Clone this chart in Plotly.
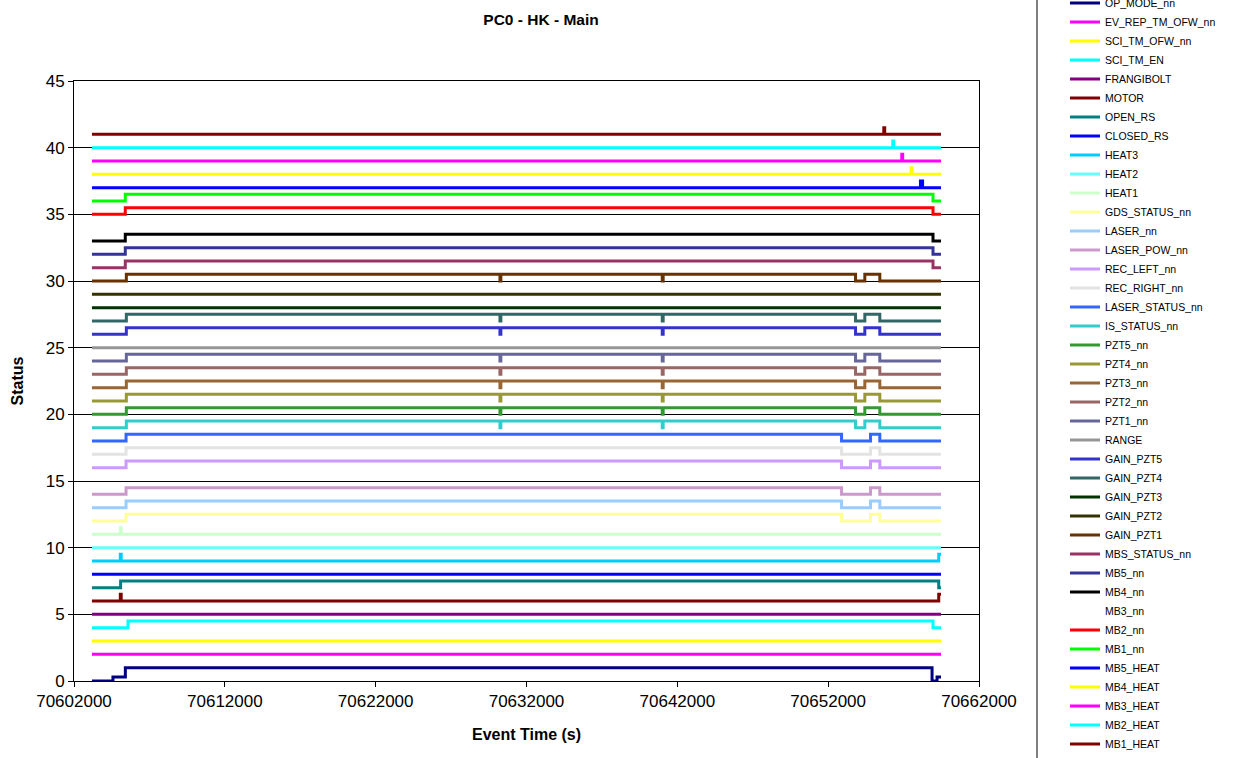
import plotly.graph_objects as go

# ---- data -------------------------------------------------------------
T0, TE = 70603190, 70659480
FLAT_T = [T0, TE]
MB_T = [T0, 70605400, 70658950, TE]
PZT_T = [T0, 70605470, 70630240, 70630300, 70641000, 70641060,
         70653815, 70654430, 70655424, TE]
LASER_T = [T0, 70605450, 70652887, 70654808, 70655424, TE]
SPIKE_END_T = [T0, 70605070, 70605130, 70659330, TE]

names = ["OP_MODE_nn", "EV_REP_TM_OFW_nn", "SCI_TM_OFW_nn", "SCI_TM_EN",
         "FRANGIBOLT", "MOTOR", "OPEN_RS", "CLOSED_RS", "HEAT3", "HEAT2",
         "HEAT1", "GDS_STATUS_nn", "LASER_nn", "LASER_POW_nn", "REC_LEFT_nn",
         "REC_RIGHT_nn", "LASER_STATUS_nn", "IS_STATUS_nn", "PZT5_nn",
         "PZT4_nn", "PZT3_nn", "PZT2_nn", "PZT1_nn", "RANGE", "GAIN_PZT5",
         "GAIN_PZT4", "GAIN_PZT3", "GAIN_PZT2", "GAIN_PZT1", "MBS_STATUS_nn",
         "MB5_nn", "MB4_nn", "MB3_nn", "MB2_nn", "MB1_nn", "MB5_HEAT",
         "MB4_HEAT", "MB3_HEAT", "MB2_HEAT", "MB1_HEAT"]

times = [
    [T0, 70604583, 70605404, 70658888, 70659219, TE],   # OP_MODE_nn
    FLAT_T,                                             # EV_REP_TM_OFW_nn
    FLAT_T,                                             # SCI_TM_OFW_nn
    [T0, 70605576, 70658950, TE],                       # SCI_TM_EN
    FLAT_T,                                             # FRANGIBOLT
    SPIKE_END_T,                                        # MOTOR
    [T0, 70605090, 70659330, TE],                       # OPEN_RS
    FLAT_T,                                             # CLOSED_RS
    SPIKE_END_T,                                        # HEAT3
    FLAT_T,                                             # HEAT2
    [T0, 70605070, 70605130, TE],                       # HEAT1
    LASER_T, LASER_T, LASER_T, LASER_T, LASER_T, LASER_T,
    PZT_T, PZT_T, PZT_T, PZT_T, PZT_T, PZT_T,           # IS_STATUS, PZT5..PZT1
    FLAT_T,                                             # RANGE
    PZT_T, PZT_T,                                       # GAIN_PZT5, GAIN_PZT4
    FLAT_T, FLAT_T,                                     # GAIN_PZT3, GAIN_PZT2
    PZT_T,                                              # GAIN_PZT1
    MB_T, MB_T, MB_T, MB_T, MB_T, MB_T,                 # MBS_STATUS, MB5..MB1
    [T0, 70658119, 70658260, TE],                       # MB5_HEAT
    [T0, 70657497, 70657560, TE],                       # MB4_HEAT
    [T0, 70656880, 70656940, TE],                       # MB3_HEAT
    [T0, 70656285, 70656345, TE],                       # MB2_HEAT
    [T0, 70655688, 70655748, TE],                       # MB1_HEAT
]

values = [
    [0, 0.3, 1, 0, 0.3, 0.3],
    [2, 2],
    [3, 3],
    [4, 4.5, 4, 4],
    [5, 5],
    [6, 6.5, 6, 6.5, 6.5],
    [7, 7.5, 7, 7],
    [8, 8],
    [9, 9.5, 9, 9.5, 9.5],
    [10, 10],
    [11, 11.5, 11, 11],
    [12, 12.5, 12, 12.5, 12, 12],
    [13, 13.5, 13, 13.5, 13, 13],
    [14, 14.5, 14, 14.5, 14, 14],
    [16, 16.5, 16, 16.5, 16, 16],
    [17, 17.5, 17, 17.5, 17, 17],
    [18, 18.5, 18, 18.5, 18, 18],
    [19, 19.5, 19, 19.5, 19, 19.5, 19, 19.5, 19, 19],
    [20, 20.5, 20, 20.5, 20, 20.5, 20, 20.5, 20, 20],
    [21, 21.5, 21, 21.5, 21, 21.5, 21, 21.5, 21, 21],
    [22, 22.5, 22, 22.5, 22, 22.5, 22, 22.5, 22, 22],
    [23, 23.5, 23, 23.5, 23, 23.5, 23, 23.5, 23, 23],
    [24, 24.5, 24, 24.5, 24, 24.5, 24, 24.5, 24, 24],
    [25, 25],
    [26, 26.5, 26, 26.5, 26, 26.5, 26, 26.5, 26, 26],
    [27, 27.5, 27, 27.5, 27, 27.5, 27, 27.5, 27, 27],
    [28, 28],
    [29, 29],
    [30, 30.5, 30, 30.5, 30, 30.5, 30, 30.5, 30, 30],
    [31, 31.5, 31, 31],
    [32, 32.5, 32, 32],
    [33, 33.5, 33, 33],
    [34, 34.5, 34, 34],
    [35, 35.5, 35, 35],
    [36, 36.5, 36, 36],
    [37, 37.5, 37, 37],
    [38, 38.5, 38, 38],
    [39, 39.5, 39, 39],
    [40, 40.5, 40, 40],
    [41, 41.5, 41, 41],
]

x_ticks = [70602000, 70612000, 70622000, 70632000, 70642000, 70652000, 70662000]
y_ticks = [0, 5, 10, 15, 20, 25, 30, 35, 40, 45]

# ---- styles -----------------------------------------------------------
colors = ["#000080", "#FF00FF", "#FFFF00", "#00FFFF", "#800080", "#800000",
          "#008080", "#0000FF", "#00CCFF", "#66FFFF", "#CCFFCC", "#FFFF99",
          "#99CCFF", "#CC99CC", "#CC99FF", "#E3E3E3", "#3366FF", "#33CCCC",
          "#339933", "#999933", "#996633", "#996666", "#666699", "#969696",
          "#3333CC", "#336666", "#003300", "#333300", "#663300", "#993366",
          "#333399", "#000000", "rgba(0,0,0,0)", "#FF0000", "#00FF00",
          "#0000FF", "#FFFF00", "#FF00FF", "#00FFFF", "#800000"]

FONT = "Liberation Sans, Arial, sans-serif"
W, H = 1249, 758
L, R, T, B = 74, 979, 81, 681

fig = go.Figure()
for n, t, v, c in zip(names, times, values, colors):
    fig.add_trace(go.Scatter(x=t, y=v, name=n, mode="lines",
                             line=dict(color=c, width=3, shape="hv")))

def px_to_paper_x(px):
    return (px - L) / (R - L)

def px_to_paper_y(py):
    return (B - py) / (B - T)

fig.update_layout(
    width=W, height=H,
    margin=dict(l=L, r=W - R, t=T, b=H - B, autoexpand=False),
    paper_bgcolor="white", plot_bgcolor="white",
    font=dict(family=FONT, color="black"),
    title=dict(text="<b>PC0 - HK - Main</b>", x=541 / W, xref="container",
               xanchor="center", y=1 - 20 / H, yref="container",
               yanchor="middle", font=dict(size=15.5, family=FONT)),
    showlegend=True,
    legend=dict(x=px_to_paper_x(1065), xanchor="left",
                y=px_to_paper_y(-11.5), yanchor="top",
                font=dict(size=10.5, family=FONT), tracegroupgap=0,
                bgcolor="rgba(0,0,0,0)", borderwidth=0, maxheight=2000),
    xaxis=dict(range=[70602000, 70662000], tickvals=x_ticks,
               ticktext=[str(v) for v in x_ticks],
               showgrid=False, zeroline=False, showline=True,
               linecolor="black", linewidth=1, mirror=True,
               ticks="outside", ticklen=5, tickcolor="black",
               tickfont=dict(size=17, family=FONT),
               title=dict(text="<b>Event Time (s)</b>",
                          font=dict(size=16, family=FONT), standoff=18)),
    yaxis=dict(range=[0, 45], tickvals=y_ticks, showgrid=True,
               gridcolor="black", gridwidth=1, zeroline=False,
               showline=True, linecolor="black", linewidth=1, mirror=True,
               ticks="outside", ticklen=5, tickcolor="black",
               tickfont=dict(size=17, family=FONT),
               title=dict(text="<b>Status</b>",
                          font=dict(size=16, family=FONT), standoff=18)),
)

# legend frame line on the left of the legend
fig.add_shape(type="line", xref="paper", yref="paper",
              x0=px_to_paper_x(1037), x1=px_to_paper_x(1037),
              y0=px_to_paper_y(0), y1=px_to_paper_y(H),
              line=dict(color="#555555", width=1.5))

fig.write_html("out.html")
